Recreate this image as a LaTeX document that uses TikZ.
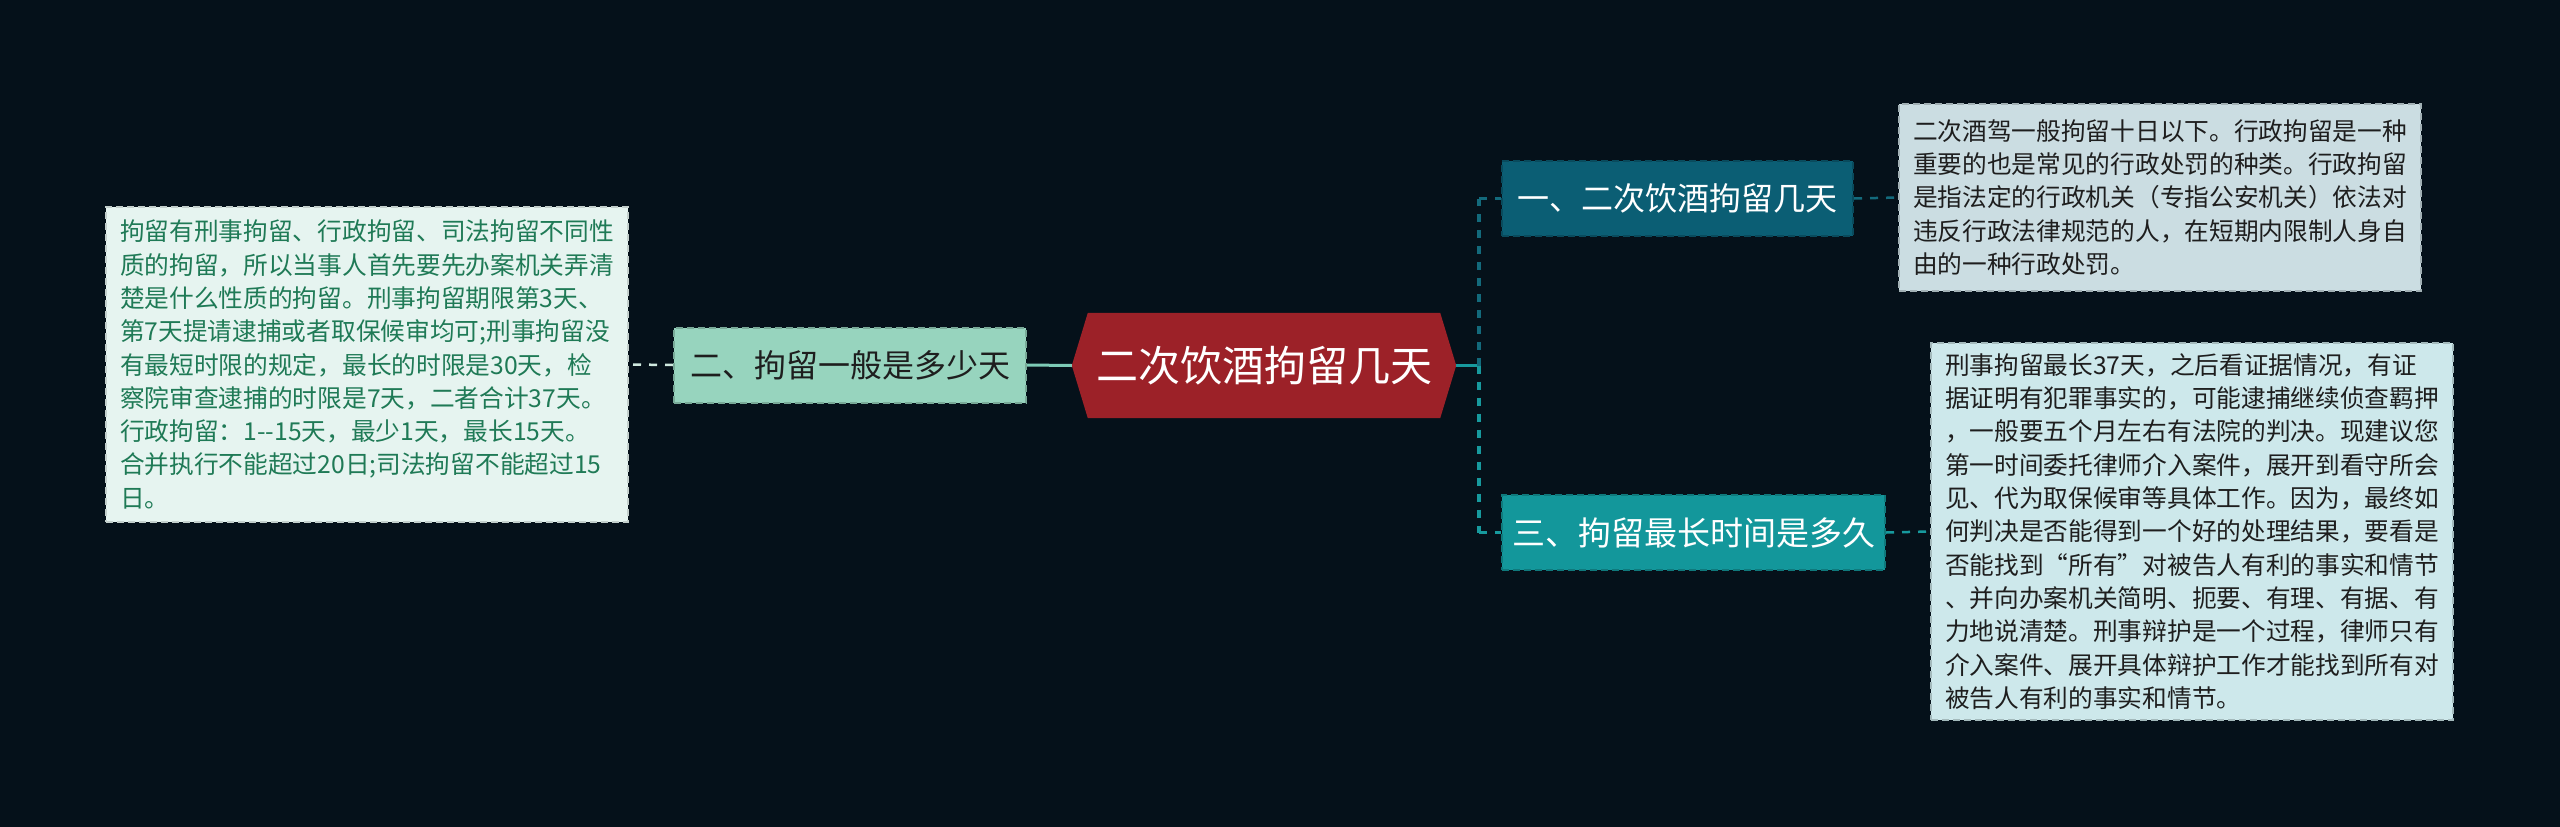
\documentclass[tikz,border=0pt]{standalone}
\usepackage{fontspec}
\setmainfont{Noto Sans CJK SC}
\usetikzlibrary{backgrounds}
\definecolor{bgc}{HTML}{05111A}
\definecolor{hexred}{HTML}{9C2128}
\definecolor{mint}{HTML}{97D4BE}
\definecolor{mintline}{HTML}{7DCBB6}
\definecolor{darkteal}{HTML}{0B5E74}
\definecolor{darktealline}{HTML}{136A7C}
\definecolor{brteal}{HTML}{13979B}
\definecolor{brtealline}{HTML}{179A9E}
\definecolor{trfill}{HTML}{CBDDE2}
\definecolor{brfill}{HTML}{CDE8EB}
\definecolor{lfill}{HTML}{E6F4F0}
\definecolor{lgreen}{HTML}{1F7A56}
\definecolor{lightline}{HTML}{CFE9DF}
\definecolor{bodytext}{HTML}{1E1E1E}
\begin{document}
\begin{tikzpicture}[x=1pt,y=-1pt,
  box/.style={inner sep=0pt, dashed, line width=2pt, dash pattern=on 7pt off 4pt},
  body/.style={box, align=left, font=\fontsize{24.7}{33.3}\selectfont, minimum width=522pt},
  topic/.style={box, font=\fontsize{32}{38}\selectfont, minimum height=75pt},
  conn/.style={line width=3pt},
  dconn/.style={line width=3pt, dash pattern=on 8pt off 8pt}
]
\useasboundingbox (0,0) rectangle (2560,827);

% nodes
\node[inner sep=0pt, minimum width=384pt, minimum height=105pt, text=white,
      font=\fontsize{42}{48}\selectfont] (hex) at (1264,365.5) {二次饮酒拘留几天};
\node[topic, fill=mint, draw=mint!80!black, text=bodytext, minimum width=352pt] (n2) at (850,365) {二、拘留一般是多少天};
\node[topic, fill=darkteal, draw=darkteal!80!black, text=white, minimum width=351pt] (n1) at (1677.5,198.5) {一、二次饮酒拘留几天};
\node[topic, fill=brteal, draw=brteal!80!black, text=white, minimum width=383pt,
      font=\fontsize{33}{40}\selectfont] (n3) at (1693.5,532.5) {三、拘留最长时间是多久};

\node[body, fill=lfill, draw=lfill!85!black, text=lgreen, minimum height=315pt] (L) at (367,364.5) {%
拘留有刑事拘留、行政拘留、司法拘留不同性\\
质的拘留，所以当事人首先要先办案机关弄清\\
楚是什么性质的拘留。刑事拘留期限第3天、\\
第7天提请逮捕或者取保候审均可;刑事拘留没\\
有最短时限的规定，最长的时限是30天，检\\
察院审查逮捕的时限是7天，二者合计37天。\\
行政拘留：1-{}-15天，最少1天，最长15天。\\
合并执行不能超过20日;司法拘留不能超过15\\
日。};

\node[body, fill=trfill, draw=trfill!80!black, text=bodytext, minimum height=187pt] (TR) at (2160,197.5) {%
二次酒驾一般拘留十日以下。行政拘留是一种\\
重要的也是常见的行政处罚的种类。行政拘留\\
是指法定的行政机关（专指公安机关）依法对\\
违反行政法律规范的人，在短期内限制人身自\\
由的一种行政处罚。};

\node[body, fill=brfill, draw=brfill!80!black, text=bodytext, minimum height=377pt] (BR) at (2192,531.5) {%
刑事拘留最长37天，之后看证据情况，有证\\
据证明有犯罪事实的，可能逮捕继续侦查羁押\\
，一般要五个月左右有法院的判决。现建议您\\
第一时间委托律师介入案件，展开到看守所会\\
见、代为取保候审等具体工作。因为，最终如\\
何判决是否能得到一个好的处理结果，要看是\\
否能找到“所有”对被告人有利的事实和情节\\
、并向办案机关简明、扼要、有理、有据、有\\
力地说清楚。刑事辩护是一个过程，律师只有\\
介入案件、展开具体辩护工作才能找到所有对\\
被告人有利的事实和情节。};

% connectors
\coordinate (trunk) at (1479,365.5);
\coordinate (t1) at (1479,198.5);
\coordinate (t3) at (1479,532.5);

\begin{scope}[on background layer]
\fill[bgc] (0,0) rectangle (2560,827);
\fill[hexred] ([xshift=16pt]hex.north west) -- ([xshift=-16pt]hex.north east) -- (hex.east)
  -- ([xshift=-16pt]hex.south east) -- ([xshift=16pt]hex.south west) -- (hex.west) -- cycle;
\draw[conn, mintline] (hex.west) -- (n2.east);
\draw[dconn, lightline, line width=2.5pt] (n2.west) -- (L.east);
\draw[conn, brtealline] (hex.east) -- (trunk);
\draw[dconn, darktealline, line width=4pt] (trunk) -- (t1);
\draw[dconn, darktealline] (t1) -- (n1.west);
\draw[dconn, brtealline, line width=4pt] (trunk) -- (t3);
\draw[dconn, brtealline] (t3) -- (n3.west);
\draw[dconn, darktealline, line width=2.5pt] (n1.east) -- (TR.west);
\draw[dconn, brtealline, line width=2.5pt] (n3.east) -- (BR.west);
\end{scope}
\end{tikzpicture}
\end{document}
